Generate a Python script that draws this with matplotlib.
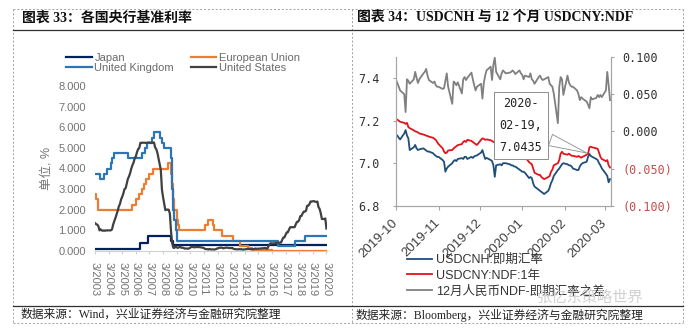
import matplotlib
matplotlib.use("Agg")
import matplotlib.pyplot as plt
from matplotlib.lines import Line2D
import matplotlib.dates as mdates
import numpy as np
import pandas as pd

# ---------------- data: chart 33 (months since 3/2003) ----------------
year_labels = ["3/%d" % y for y in range(2003, 2021)]

japan_months = [0, 40, 47, 67, 69, 204]
japan_rates = [0.1, 0.4, 0.75, 0.5, 0.3, 0.3]

eu_months = [0, 1, 3, 33, 36, 39, 41, 43, 45, 48, 51, 64, 67, 68, 69, 70, 72, 73, 74,
             97, 100, 104, 105, 112, 122, 128, 135, 138, 156, 204]
eu_rates = [2.75, 2.5, 2.0, 2.25, 2.5, 2.75, 3.0, 3.25, 3.5, 3.75, 4.0, 4.25, 3.75, 3.25, 2.5, 2.0, 1.5, 1.25, 1.0,
            1.25, 1.5, 1.25, 1.0, 0.75, 0.5, 0.25, 0.15, 0.05, 0.0, 0.0]

uk_months = [0, 4, 8, 11, 14, 15, 17, 29, 41, 44, 46, 50, 52, 57, 59, 61, 67, 68, 69, 70, 71, 72,
             161, 176, 185, 204]
uk_rates = [3.75, 3.5, 3.75, 4.0, 4.25, 4.5, 4.75, 4.5, 4.75, 5.0, 5.25, 5.5, 5.75, 5.5, 5.25, 5.0, 4.5, 3.0, 2.0, 1.5, 1.0, 0.5,
            0.25, 0.5, 0.75, 0.75]

us_rates = [
    1.35, 1.3, 1.28, 1.2, 1.0, 1.05, 1.0, 0.98, 1.0, 0.98,                      # 2003
    1.0, 1.0, 1.0, 1.0, 1.0, 1.05, 1.28, 1.45, 1.6, 1.78, 1.95, 2.16,           # 2004
    2.28, 2.5, 2.63, 2.79, 3.0, 3.04, 3.26, 3.5, 3.62, 3.78, 4.0, 4.16,         # 2005
    4.29, 4.49, 4.59, 4.79, 4.94, 4.99, 5.24, 5.25, 5.25, 5.25, 5.25, 5.24,     # 2006
    5.25, 5.26, 5.26, 5.25, 5.25, 5.25, 5.26, 5.02, 4.94, 4.76, 4.49, 4.24,     # 2007
    3.94, 2.98, 2.61, 2.28, 1.98, 2.0, 2.01, 2.0, 1.81, 0.97, 0.39, 0.16,       # 2008
    0.15, 0.22, 0.18, 0.15, 0.18, 0.21, 0.16, 0.16, 0.15, 0.12, 0.12, 0.12,     # 2009
    0.11, 0.13, 0.16, 0.2, 0.2, 0.18, 0.18, 0.19, 0.19, 0.19, 0.19, 0.18,       # 2010
    0.17, 0.16, 0.14, 0.1, 0.09, 0.09, 0.07, 0.1, 0.08, 0.07, 0.08, 0.07,       # 2011
    0.08, 0.1, 0.13, 0.14, 0.16, 0.16, 0.16, 0.13, 0.14, 0.16, 0.16, 0.16,      # 2012
    0.14, 0.15, 0.14, 0.15, 0.11, 0.09, 0.09, 0.08, 0.08, 0.09, 0.08, 0.09,     # 2013
    0.07, 0.07, 0.08, 0.09, 0.09, 0.1, 0.09, 0.09, 0.09, 0.09, 0.09, 0.12,      # 2014
    0.11, 0.11, 0.11, 0.12, 0.12, 0.13, 0.13, 0.14, 0.14, 0.12, 0.12, 0.24,     # 2015
    0.34, 0.38, 0.36, 0.37, 0.37, 0.38, 0.39, 0.4, 0.4, 0.4, 0.41, 0.54,        # 2016
    0.65, 0.66, 0.79, 0.9, 0.91, 1.04, 1.15, 1.16, 1.15, 1.15, 1.16, 1.3,       # 2017
    1.41, 1.42, 1.51, 1.69, 1.7, 1.82, 1.91, 1.91, 1.95, 2.19, 2.2, 2.27,       # 2018
    2.4, 2.4, 2.41, 2.42, 2.39, 2.38, 2.4, 2.13, 2.04, 1.83, 1.55, 1.55,        # 2019
    1.55, 1.58, 1.09,                                                           # 2020
]

# ---------------- data: chart 34 (business days from 2019-10-01) ----------------
cnh = [
    7.133, 7.13, 7.12, 7.112, 7.14, 7.156, 7.13, 7.117, 7.062, 7.075, 7.086, 7.07, 7.062, 7.065, 7.07, 7.065,
    7.06, 7.055, 7.055, 7.047, 7.04, 7.035, 7.03,                                                    # Oct
    7.03, 7.015, 7.007, 6.96, 6.975, 6.984, 7.0, 7.01, 7.015, 7.01, 7.02, 7.024, 7.02, 7.03, 7.03, 7.02,
    7.03, 7.025, 7.032, 7.035, 7.037,                                                                # Nov
    7.05, 7.062, 7.04, 7.02, 7.025, 7.015, 7.01, 6.99, 6.936, 6.99, 6.995, 6.99, 7.0, 7.0, 7.0, 6.995,
    6.99, 6.99, 6.985, 6.984, 6.97, 6.965,                                                           # Dec
    6.96, 6.96, 6.955, 6.93, 6.935, 6.93, 6.905, 6.89, 6.875, 6.87, 6.865, 6.86, 6.855, 6.87, 6.885, 6.907,
    6.92, 6.94, 6.968, 6.975, 6.985, 6.995, 7.0,                                                     # Jan
    6.995, 6.99, 6.99, 6.985, 6.975, 6.968, 6.968, 6.985, 6.995, 7.0, 7.007, 7.03, 7.0435, 7.034, 7.03, 7.02,
    7.015, 7.0, 6.99, 6.976,                                                                         # Feb
    6.95, 6.94, 6.91, 6.925,                                                                         # Mar
]
ndf = [
    7.207, 7.205, 7.2, 7.195, 7.19, 7.185, 7.19, 7.17, 7.165, 7.155, 7.15, 7.148, 7.145, 7.14, 7.135, 7.133,
    7.13, 7.128, 7.125, 7.12, 7.115, 7.11, 7.1,
    7.09, 7.07, 7.055, 7.047, 7.05, 7.06, 7.062, 7.07, 7.075, 7.08, 7.085, 7.09, 7.1, 7.105, 7.1, 7.11,
    7.105, 7.1, 7.095, 7.09, 7.086,
    7.11, 7.117, 7.115, 7.11, 7.112, 7.108, 7.105, 7.1, 7.1, 7.1, 7.095, 7.09, 7.09, 7.085, 7.08, 7.075,
    7.07, 7.065, 7.06, 7.055, 7.05, 7.04,
    7.04, 7.03, 7.03, 7.005, 7.0, 6.995, 6.975, 6.955, 6.945, 6.945, 6.935, 6.93, 6.925, 6.935, 6.94, 6.96,
    6.97, 6.99, 7.0, 7.015, 7.045, 7.054, 7.045,
    7.04, 7.045, 7.04, 7.035, 7.035, 7.03, 7.034, 7.03, 7.026, 7.03, 7.04, 7.045, 7.075, 7.078, 7.075, 7.07,
    7.068, 7.05, 7.03, 7.02,
    7.01, 7.015, 6.99, 6.98,
]
spread = [
    0.069, 0.065, 0.06, 0.055, 0.05, 0.026, 0.07, 0.068, 0.064, 0.07, 0.08, 0.072, 0.065, 0.07, 0.078, 0.08,
    0.084, 0.075, 0.069, 0.065, 0.067, 0.062, 0.06,
    0.06, 0.057, 0.058, 0.068, 0.078, 0.06, 0.037, 0.067, 0.065, 0.062, 0.066, 0.051, 0.07, 0.073, 0.069, 0.072,
    0.079, 0.07, 0.062, 0.055, 0.06,
    0.064, 0.044, 0.065, 0.075, 0.082, 0.087, 0.069, 0.09, 0.099, 0.08, 0.07, 0.078, 0.082, 0.08, 0.078, 0.079,
    0.08, 0.082, 0.08, 0.077, 0.082, 0.078,
    0.076, 0.07, 0.075, 0.073, 0.078, 0.07, 0.068, 0.064, 0.073, 0.075, 0.071, 0.069, 0.07, 0.073, 0.064, 0.062,
    0.06, 0.051, 0.011, 0.06, 0.073, 0.07, 0.049,
    0.075, 0.066, 0.062, 0.06, 0.06, 0.055, 0.05, 0.042, 0.046, 0.044, 0.04, 0.036, 0.031, 0.046, 0.043, 0.045,
    0.049, 0.046, 0.049, 0.046,
    0.055, 0.08, 0.062, 0.042,
]
right_ticks = [-0.1, -0.05, 0.0, 0.05, 0.1]
right_labels = ["(0.100)", "(0.050)", "0.000", "0.050", "0.100"]

W, H = 693, 335


def fx(px):
    return px / W


def fy(py):
    return 1 - py / H


cjk_sans = ["Liberation Sans", "Noto Sans CJK SC"]
cjk_serif = ["Liberation Serif", "Noto Sans CJK SC"]

fig = plt.figure(figsize=(6.93, 3.35), dpi=100)

# ---------------- frame, titles, sources ----------------
dash = dict(color="#a0a0a0", lw=0.7, ls=(0, (2, 2)))
for xs, ys in [([13, 683], [9, 9]), ([13, 683], [323, 323]), ([13, 13], [9, 323]),
               ([352, 352], [9, 323]), ([683, 683], [9, 323])]:
    fig.add_artist(Line2D([fx(x) for x in xs], [fy(y) for y in ys], **dash))
for y in [30, 306]:
    fig.add_artist(Line2D([fx(13), fx(683)], [fy(y), fy(y)], color="#303030", lw=0.9))

fig.text(fx(22), fy(18), "图表 33：各国央行基准利率", fontsize=10, weight="bold",
         family=cjk_serif, va="center", color="#111111")
fig.text(fx(357), fy(17), "图表 34：USDCNH 与 12 个月 USDCNY:NDF", fontsize=10, weight="bold",
         family=cjk_serif, va="center", color="#111111")
fig.text(fx(21), fy(315), "数据来源：Wind，兴业证券经济与金融研究院整理", fontsize=8.5,
         family=cjk_serif, va="center", color="#222222")
fig.text(fx(356), fy(315), "数据来源：Bloomberg，兴业证券经济与金融研究院整理", fontsize=8.5,
         family=cjk_serif, va="center", color="#222222")

# ---------------- chart 33 ----------------
ax1 = fig.add_axes([fx(95), fy(251), fx(327) - fx(95), fy(86) - fy(251)])
l_jp, = ax1.plot(japan_months, japan_rates, drawstyle="steps-post", color="#002060", lw=1.6)
l_eu, = ax1.plot(eu_months, eu_rates, drawstyle="steps-post", color="#ED7D31", lw=1.6)
l_uk, = ax1.plot(uk_months, uk_rates, drawstyle="steps-post", color="#2E75B6", lw=1.6)
l_us, = ax1.plot(np.arange(len(us_rates)), us_rates, color="#404040", lw=1.6)

ax1.set_xlim(0, 204.5)
ax1.set_ylim(0, 8)
ax1.set_yticks(np.arange(0, 9))
ax1.set_yticklabels(["%.3f" % v for v in range(0, 9)])
ax1.set_xticks(np.arange(0, 12 * len(year_labels), 12))
ax1.set_xticklabels(year_labels, rotation=-90, va="top", ha="center")
for s in ["top", "left", "right"]:
    ax1.spines[s].set_visible(False)
ax1.spines["bottom"].set_color("#d0d0d0")
ax1.tick_params(axis="y", length=0, pad=6.5, labelsize=8, labelcolor="#737373")
ax1.tick_params(axis="x", length=2.5, color="#d0d0d0", pad=5.5, labelsize=8, labelcolor="#737373")
for t in ax1.get_xticklabels() + ax1.get_yticklabels():
    t.set_family("Liberation Sans")

fig.text(fx(46), fy(168), "单位, %", rotation=90, fontsize=9, family=cjk_sans,
         color="#737373", ha="center", va="center")

fig.legend([l_jp, l_uk, l_eu, l_us], ["Japan", "United Kingdom", "European Union", "United States"],
           ncol=2, loc="upper left", bbox_to_anchor=(fx(66), fy(53)), frameon=False,
           prop={"family": "Liberation Sans", "size": 8}, labelcolor="#6a6a6a",
           handlelength=2.3, handletextpad=0.25, labelspacing=0.0, columnspacing=1.5,
           borderpad=0, borderaxespad=0)

# ---------------- chart 34 ----------------
ax2 = fig.add_axes([fx(396), fy(205.7), fx(610.7) - fx(396), fy(57) - fy(205.7)])
dates = pd.bdate_range("2019-10-01", periods=len(cnh))
l_cnh, = ax2.plot(dates, cnh, color="#1F4E79", lw=1.3)
l_ndf, = ax2.plot(pd.bdate_range("2019-10-01", periods=len(ndf)), ndf, color="#E3131B", lw=1.3)
ax2.set_ylim(6.8, 7.5)
ax2.set_yticks([6.8, 7.0, 7.2, 7.4])
ax2.set_yticklabels(["6.8", "7.0", "7.2", "7.4"])
ax2.set_xlim(pd.Timestamp("2019-10-01"), pd.Timestamp("2020-03-05 12:00"))
ax2.xaxis.set_major_locator(mdates.MonthLocator())
ax2.xaxis.set_major_formatter(mdates.DateFormatter("%Y-%m"))

ax3 = ax2.twinx()
l_spr, = ax3.plot(pd.bdate_range("2019-10-01", periods=len(spread)), spread, color="#808080", lw=1.3)
ax3.set_ylim(-0.1, 0.1)
ax3.set_yticks(right_ticks)
ax3.set_yticklabels(right_labels)
for t in ax3.get_yticklabels():
    t.set_color("#C0504D" if t.get_text().startswith("(") else "#333333")

for a in (ax2, ax3):
    a.spines["top"].set_visible(False)
    for s in ["left", "right", "bottom"]:
        a.spines[s].set_color("#a6a6a6")
ax2.tick_params(axis="y", length=2.5, color="#a6a6a6", pad=9.5, labelsize=8.5, labelcolor="#333333")
ax3.tick_params(axis="y", length=2.5, color="#a6a6a6", pad=6, labelsize=8.5)
ax2.tick_params(axis="x", length=3, color="#a6a6a6", pad=8, labelsize=9.5, labelcolor="#404040")
for t in ax2.get_yticklabels() + ax3.get_yticklabels():
    t.set_family("DejaVu Sans Mono")
for t in ax2.get_xticklabels():
    t.set_family("Liberation Sans")
    t.set_rotation(45)
    t.set_ha("right")
    t.set_va("center")
    t.set_rotation_mode("anchor")

# callout on 2020-02-19
pt = pd.Timestamp("2020-02-19")
ax3.annotate("2020-\n02-19,\n7.0435", xy=(mdates.date2num(pt), 7.0435), xycoords=ax2.transData,
             xytext=(mdates.date2num(pd.Timestamp("2019-12-31")), 7.177), textcoords=ax2.transData,
             ha="center", va="center", fontsize=8.5, family="DejaVu Sans Mono", color="#222222",
             linespacing=1.9, zorder=10,
             bbox=dict(boxstyle="square,pad=0.45", fc="white", ec="#8c8c8c", lw=0.7),
             arrowprops=dict(arrowstyle="wedge,tail_width=1.0,shrink_factor=0.5", fc="white",
                             ec="#8c8c8c", lw=0.6, relpos=(1.0, 0.3)))

fig.legend([l_cnh, l_ndf, l_spr], ["USDCNH:即期汇率", "USDCNY:NDF:1年", "12月人民币NDF-即期汇率之差"],
           loc="upper left", bbox_to_anchor=(fx(407), fy(254)), frameon=False,
           prop={"family": cjk_sans, "size": 9}, labelcolor="#333333",
           handlelength=2.0, handletextpad=0.3, labelspacing=0.3, borderpad=0, borderaxespad=0)

# faint watermark over the legend
fig.text(fx(537), fy(298), "张忆东策略世界", fontsize=11, family=cjk_sans, color="#c8c8c8",
         alpha=0.85, va="center", zorder=20)

fig.savefig("out.png", dpi=100)
